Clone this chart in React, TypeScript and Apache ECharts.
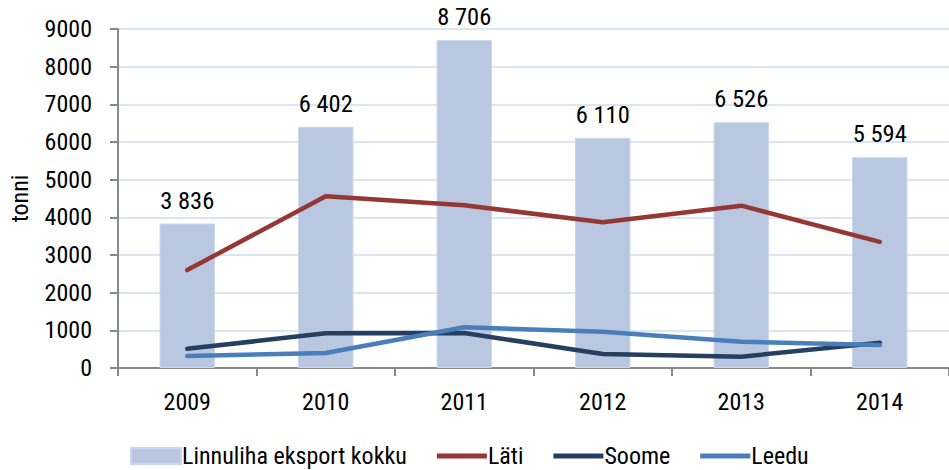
import React, { useEffect, useRef } from "react";
import * as echarts from "echarts";

const years = ["2009", "2010", "2011", "2012", "2013", "2014"];
const totalExport = [3836, 6402, 8706, 6110, 6526, 5594];
const lati = [2600, 4560, 4320, 3870, 4310, 3350];
const soome = [510, 920, 930, 370, 300, 670];
const leedu = [320, 400, 1080, 960, 700, 610];

const FONT = "'Liberation Sans Narrow', 'Roboto Condensed', 'Arial Narrow', Roboto, sans-serif";
const LINE_ICON = "path://M0,0L0,0ZM0,5.5L50,5.5L50,10.5L0,10.5ZM50,16L50,16Z";

export default function App() {
  const ref = useRef<HTMLDivElement>(null);
  useEffect(() => {
    const chart = echarts.init(ref.current!, undefined, { renderer: "svg" });
    const fmt = (v: number) => String(v).replace(/\B(?=(\d{3})+(?!\d))/g, " ");
    chart.setOption({
      animation: false,
      grid: { left: 118, right: -8, top: 29, bottom: 102 },
      legend: {
        top: 444,
        left: 130,
        padding: 0,
        itemGap: 30,
        itemWidth: 50,
        itemHeight: 16,
        symbolKeepAspect: false,
        textStyle: { fontFamily: FONT, fontSize: 24, lineHeight: 24, color: "#000", padding: [0, 0, 0, -4] },
        data: [
          { name: "Linnuliha eksport kokku", icon: "rect" },
          { name: "Läti", icon: LINE_ICON },
          { name: "Soome", icon: LINE_ICON },
          { name: "Leedu", icon: LINE_ICON },
        ],
      },
      xAxis: {
        type: "category",
        data: years,
        axisLine: { lineStyle: { color: "#888", width: 2 } },
        axisTick: { show: true, length: 8, lineStyle: { color: "#888", width: 2 } },
        axisLabel: { fontFamily: FONT, fontSize: 24, color: "#000", margin: 22 },
      },
      yAxis: {
        type: "value",
        min: 0,
        max: 9000,
        interval: 1000,
        name: "tonni",
        nameLocation: "middle",
        nameGap: 86,
        nameRotate: 90,
        nameTextStyle: { fontFamily: FONT, fontSize: 24, color: "#000" },
        axisLine: { show: true, lineStyle: { color: "#888", width: 2 } },
        axisTick: { show: true, length: 8, lineStyle: { color: "#888", width: 2 } },
        axisLabel: { fontFamily: FONT, fontSize: 24, color: "#000", margin: 26, formatter: (v: number) => String(v) },
        splitLine: { lineStyle: { color: "#DCE6F2", width: 2 } },
      },
      series: [
        {
          name: "Linnuliha eksport kokku",
          type: "bar",
          data: totalExport,
          barWidth: "40%",
          itemStyle: { color: "#B9C7E0", borderColor: "#C9D6EC", borderWidth: 1 },
          label: {
            show: true,
            position: "top",
            distance: 11,
            fontFamily: FONT,
            fontSize: 24.5,
            color: "#000",
            formatter: (p: any) => fmt(p.value),
          },
        },
        {
          name: "Läti",
          type: "line",
          data: lati,
          symbol: "none",
          lineStyle: { color: "#953735", width: 4.5, cap: "round" },
          itemStyle: { color: "#953735" },
        },
        {
          name: "Soome",
          type: "line",
          data: soome,
          symbol: "none",
          lineStyle: { color: "#243F60", width: 4.5, cap: "round" },
          itemStyle: { color: "#243F60" },
        },
        {
          name: "Leedu",
          type: "line",
          data: leedu,
          symbol: "none",
          lineStyle: { color: "#4A7EBB", width: 4.5, cap: "round" },
          itemStyle: { color: "#4A7EBB" },
        },
      ],
    });
    return () => chart.dispose();
  }, []);
  return <div ref={ref} style={{ width: 949, height: 470, position: "absolute", left: 0, top: 0, background: "#fff" }} />;
}
